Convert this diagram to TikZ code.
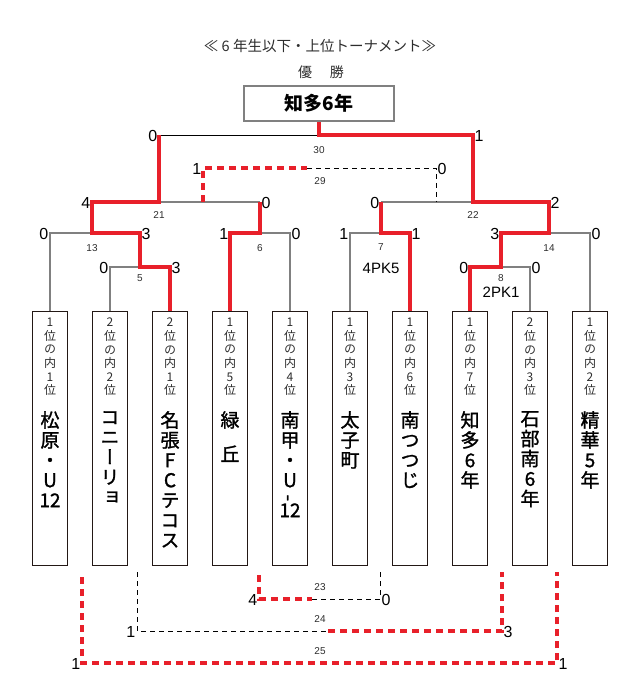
\documentclass[tikz,border=0pt]{standalone}
\usepackage{fontspec}
\usepackage{graphicx}
\usetikzlibrary{positioning}
\setmainfont{Noto Sans CJK JP}
\newfontfamily\tatefont[RawFeature=+vert]{Noto Sans CJK JP}
\newfontfamily\namefont[RawFeature=+vert, FakeBold=1.3]{Noto Sans CJK JP}
\newfontfamily\numfont{Liberation Sans}
\definecolor{wincolor}{RGB}{232, 32, 42}
\definecolor{linecolor}{RGB}{128, 128, 128}
\definecolor{boxcolor}{RGB}{35, 24, 21}
\definecolor{textcolor}{RGB}{45, 45, 45}
\tikzset{
	team/.style={draw=boxcolor, fill=white, line width=1pt, minimum width=35pt, minimum height=254pt, anchor=north, inner sep=0pt},
	champ/.style={draw=linecolor, line width=1.5pt, minimum width=150pt, minimum height=35pt, font=\fontsize{19}{19}\selectfont\bfseries},
	rank/.style={font=\fontsize{12}{13.6}\selectfont\tatefont, text=textcolor, align=center, inner sep=0pt},
	teamname/.style={font=\fontsize{19}{20}\selectfont\namefont, align=center, inner sep=0pt},
	match/.style={draw=linecolor, line width=1.2pt},
	final/.style={draw=black, line width=0.8pt},
	win/.style={draw=wincolor, line width=3.5pt},
	later/.style={draw=black, line width=0.8pt, dash pattern=on 5pt off 4pt},
	laterwin/.style={draw=wincolor, line width=3.5pt, dash pattern=on 7pt off 5pt},
	score/.style={font=\fontsize{16}{16}\selectfont\numfont, inner sep=0pt, yshift=-1pt},
	mno/.style={font=\fontsize{10}{10}\selectfont\numfont, text=textcolor, inner sep=0pt},
	pk/.style={font=\fontsize{15}{15}\selectfont\numfont, inner sep=0pt}
}

\begin{document}
\begin{tikzpicture}[x=1pt, y=-1pt]
	\useasboundingbox (0,0) rectangle (640,700);

	% Title
	\node (title) at (320,46) [font=\fontsize{14.5}{14.5}\selectfont, text=textcolor] {≪ 6 年生以下・上位トーナメント≫};
	\node (yusho) at (321,72) [font=\fontsize{14}{14}\selectfont, text=textcolor] {優\hspace{18pt}勝};
	\node (champ) at (319,103.5) [champ] {知多6年};

	% Junctions
	\coordinate (j5) at (140,267);
	\coordinate (j13) at (92,233);
	\coordinate (j6) at (260,233);
	\coordinate (j21) at (159,202);
	\coordinate (j7) at (381,233);
	\coordinate (j8) at (501,267);
	\coordinate (j14) at (549,233);
	\coordinate (j22) at (473,202);
	\coordinate (j30) at (319,135);
	\coordinate (j29L) at (203,168);
	\coordinate (j29M) at (307,168);
	\coordinate (j29R) at (436,168);

	% Lower games
	\coordinate (a23L) at (259,575);
	\coordinate (j23L) at (259,599);
	\coordinate (j23M) at (312,599);
	\coordinate (j23R) at (380,599);
	\coordinate (a23R) at (380,572);
	\coordinate (a24L) at (137,572);
	\coordinate (j24L) at (137,631);
	\coordinate (j24M) at (328,631);
	\coordinate (j24R) at (502,631);
	\coordinate (a24R) at (502,572);
	\coordinate (a25L) at (82,577);
	\coordinate (j25L) at (82,663);
	\coordinate (j25R) at (557,663);
	\coordinate (a25R) at (557,572);

	% Teams
	\node (t1) [team] at (50,311) {};
	\node (t2) [team] at (110,311) {};
	\node (t3) [team] at (170,311) {};
	\node (t4) [team] at (230,311) {};
	\node (t5) [team] at (290,311) {};
	\node (t6) [team] at (350,311) {};
	\node (t7) [team] at (410,311) {};
	\node (t8) [team] at (470,311) {};
	\node (t9) [team] at (530,311) {};
	\node (t10) [team] at (590,311) {};

	\node (r1) [rank, below=7pt of t1.north] {1\\位\\の\\内\\1\\位};
	\node (r2) [rank, below=7pt of t2.north] {2\\位\\の\\内\\2\\位};
	\node (r3) [rank, below=7pt of t3.north] {2\\位\\の\\内\\1\\位};
	\node (r4) [rank, below=7pt of t4.north] {1\\位\\の\\内\\5\\位};
	\node (r5) [rank, below=7pt of t5.north] {1\\位\\の\\内\\4\\位};
	\node (r6) [rank, below=7pt of t6.north] {1\\位\\の\\内\\3\\位};
	\node (r7) [rank, below=7pt of t7.north] {1\\位\\の\\内\\6\\位};
	\node (r8) [rank, below=7pt of t8.north] {1\\位\\の\\内\\7\\位};
	\node (r9) [rank, below=7pt of t9.north] {2\\位\\の\\内\\3\\位};
	\node (r10) [rank, below=7pt of t10.north] {1\\位\\の\\内\\2\\位};

	\node (n1) [teamname, below=100pt of t1.north] {松\\原\\・\\U\\12};
	\node (n2) [teamname, below=100pt of t2.north] {コ\\ニ\\ー\\リ\\ョ};
	\node (n3) [teamname, below=100pt of t3.north] {名\\張\\F\\C\\テ\\コ\\ス};
	\node (n4) [teamname, below=100pt of t4.north] {緑\\[14pt]丘};
	\node (n5) [teamname, below=100pt of t5.north] {南\\甲\\・\\U\\[-6pt]\rotatebox{90}{-}\\[-4pt]12};
	\node (n6) [teamname, below=100pt of t6.north] {太\\子\\町};
	\node (n7) [teamname, below=100pt of t7.north] {南\\つ\\つ\\じ};
	\node (n8) [teamname, below=100pt of t8.north] {知\\多\\6\\年};
	\node (n9) [teamname, below=100pt of t9.north] {石\\部\\南\\6\\年};
	\node (n10) [teamname, below=100pt of t10.north] {精\\華\\5\\年};

	% Brackets
	\draw[match] (t2.north) |- (j5);
	\draw[match] (t1.north) |- (j13);
	\draw[match] (t5.north) |- (j6);
	\draw[match] (j21) -- (j6 |- j21);
	\draw[match] (t6.north) |- (j7);
	\draw[match] (j7 |- j22) -- (j22);
	\draw[match] (t9.north) |- (j8);
	\draw[match] (t10.north) |- (j14);
	\draw[final] (j21 |- j30) -- (j30);

	\draw[win] (t3.north) |- (j5) |- (j13) |- (j21) -- (j21 |- j30);
	\draw[win] (t4.north) |- (j6) -- (j6 |- j21);
	\draw[win] (t7.north) |- (j7) -- (j7 |- j22);
	\draw[win] (t8.north) |- (j8) |- (j14) |- (j22) |- (j30) -- (champ.south);

	% Third place and lower games
	\draw[laterwin] (j29L |- j21) -- (j29L) -- (j29M);
	\draw[later] (j29M) -- (j29R) -- (j29R |- j22);
	\draw[laterwin] (a23L) -- (j23L) -- (j23M);
	\draw[later] (j23M) -- (j23R) -- (a23R);
	\draw[later] (a24L) -- (j24L) -- (j24M);
	\draw[laterwin] (j24M) -- (j24R) -- (a24R);
	\draw[laterwin] (a25L) -- (j25L) -- (j25R) -- (a25R);

	% Scores
	\node[score, left=1.5pt of j21 |- j30] {0};
	\node[score, right=1.5pt of j22 |- j30] {1};
	\node[score, left=1.5pt of j29L] {1};
	\node[score, right=1.5pt of j29R] {0};
	\node[score, left=1.5pt of j13 |- j21] {4};
	\node[score, right=1.5pt of j6 |- j21] {0};
	\node[score, left=1.5pt of j7 |- j22] {0};
	\node[score, right=1.5pt of j14 |- j22] {2};
	\node[score, left=1.5pt of t1.north |- j13] {0};
	\node[score, right=1.5pt of j5 |- j13] {3};
	\node[score, left=1.5pt of t4.north |- j6] {1};
	\node[score, right=1.5pt of t5.north |- j6] {0};
	\node[score, left=1.5pt of t6.north |- j7] {1};
	\node[score, right=1.5pt of t7.north |- j7] {1};
	\node[score, left=1.5pt of j8 |- j14] {3};
	\node[score, right=1.5pt of t10.north |- j14] {0};
	\node[score, left=1.5pt of t2.north |- j5] {0};
	\node[score, right=1.5pt of t3.north |- j5] {3};
	\node[score, left=1.5pt of t8.north |- j8] {0};
	\node[score, right=1.5pt of t9.north |- j8] {0};
	\node[score, left=1.5pt of j23L] {4};
	\node[score, right=1.5pt of j23R] {0};
	\node[score, left=1.5pt of j24L] {1};
	\node[score, right=1.5pt of j24R] {3};
	\node[score, left=1.5pt of j25L] {1};
	\node[score, right=1.5pt of j25R] {1};

	% Game numbers
	\node[mno] at ([yshift=-15pt]j30) {30};
	\node[mno] at (320,181) {29};
	\node[mno] at ([yshift=-13pt]j21) {21};
	\node[mno] at ([yshift=-13pt]j22) {22};
	\node[mno] at ([yshift=-15pt]j13) {13};
	\node[mno] at ([yshift=-15pt]j6) {6};
	\node[mno] at ([yshift=-11pt]j5) {5};
	\node[mno] at ([yshift=-14pt]j7) {7};
	\node[mno] at ([yshift=-15pt]j14) {14};
	\node[mno] at ([yshift=-11pt]j8) {8};
	\node[pk] at ([yshift=-35pt]j7) {4PK5};
	\node[pk] at ([yshift=-25pt]j8) {2PK1};
	\node[mno] at (320,587) {23};
	\node[mno] at (320,619) {24};
	\node[mno] at (320,651) {25};

\end{tikzpicture}
\end{document}
